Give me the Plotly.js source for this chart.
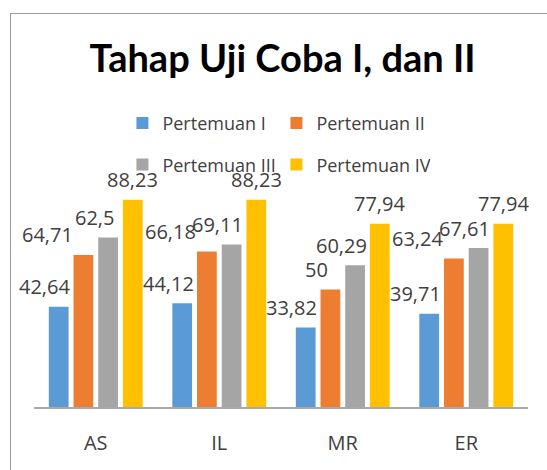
<!DOCTYPE html>
<html>
<head>
<meta charset="utf-8">
<script src="https://cdn.plot.ly/plotly-3.0.1.min.js"></script>
<style>
  html, body { margin: 0; padding: 0; background: #ffffff; }
  #frame { position: absolute; left: 10px; top: 13px; width: 600px; height: 600px; border: 1px solid #9a9a9a; box-sizing: border-box; }
  #chart { position: absolute; left: 0; top: 0; width: 547px; height: 470px; }
</style>
</head>
<body>
<div id="frame"></div>
<div id="chart"></div>
<script>
// categories and series
const categories = ['AS', 'IL', 'MR', 'ER'];
const seriesNames = ['Pertemuan I', 'Pertemuan II', 'Pertemuan III', 'Pertemuan IV'];
// bar heights
const pertemuanI = [42.64, 44.12, 33.82, 39.71];
const pertemuanII = [64.71, 66.18, 50, 63.24];
const pertemuanIII = [72.1, 69.11, 60.29, 67.61];
const pertemuanIV = [88.23, 88.23, 77.94, 77.94];
// data labels as printed in the picture
const labelsI = ['42,64', '44,12', '33,82', '39,71'];
const labelsII = ['64,71', '66,18', '50', '63,24'];
const labelsIII = ['62,5', '69,11', '60,29', '67,61'];
const labelsIV = ['88,23', '88,23', '77,94', '77,94'];

const colors = ['#5b9bd5', '#ed7d31', '#a5a5a5', '#ffc000'];
const allValues = [pertemuanI, pertemuanII, pertemuanIII, pertemuanIV];
const allLabels = [labelsI, labelsII, labelsIII, labelsIV];
const labelShiftBySeries = [-14, -14, -14, 0];
const textFont = '"Open Sans", sans-serif';
const titleFont = 'Lato, "Open Sans", sans-serif';

const W = 547, H = 470;
const margin = { l: 34, r: 19, t: 171.6, b: 63.3 };
const yRange = [0, 100];
const bargap = 0.2, bargroupgap = 0.2;

const traces = allValues.map((vals, i) => ({
  type: 'bar',
  name: seriesNames[i],
  x: categories,
  y: vals,
  marker: { color: colors[i] },
  hoverinfo: 'skip',
  legend: i < 2 ? 'legend' : 'legend2'
}));

// data labels anchored on each bar's category/value through the axes
const plotW = W - margin.l - margin.r;
const plotH = H - margin.t - margin.b;
const pxPerUnit = plotH / (yRange[1] - yRange[0]);
const slotPx = plotW / categories.length * (1 - bargap) / allValues.length;
const annotations = [];
categories.forEach((cat, j) => {
  const shifts = labelShiftBySeries.slice();
  for (let i = 1; i < allValues.length; i++) {
    const sep = Math.abs(allValues[i][j] - allValues[i - 1][j]) * pxPerUnit;
    if (sep < 20) shifts[i - 1] -= 22;
  }
  allValues.forEach((vals, i) => {
    annotations.push({
      x: cat, y: vals[j], xref: 'x', yref: 'y',
      text: allLabels[i][j],
      showarrow: false,
      xanchor: 'center', yanchor: 'middle',
      xshift: (i - (allValues.length - 1) / 2) * slotPx + shifts[i],
      yshift: 20,
      font: { family: textFont, size: 20, color: '#404040' }
    });
  });
});

const legendCommon = {
  orientation: 'h',
  xanchor: 'left',
  yanchor: 'middle',
  font: { family: textFont, size: 18, color: '#404040' },
  bgcolor: 'rgba(0,0,0,0)',
  entrywidth: 109,
  entrywidthmode: 'pixels',
  itemwidth: 30,
  tracegroupgap: 0,
  x: 0.179
};

const layout = {
  width: W,
  height: H,
  margin: margin,
  paper_bgcolor: 'rgba(0,0,0,0)',
  plot_bgcolor: 'rgba(0,0,0,0)',
  barmode: 'group',
  bargap: bargap,
  bargroupgap: bargroupgap,
  showlegend: true,
  title: {
    text: '<b>Tahap Uji Coba I, dan II</b>',
    font: { family: titleFont, size: 38, color: '#000000' },
    x: 282.5 / W, xanchor: 'center',
    y: 1 - 59 / H, yanchor: 'middle', yref: 'container'
  },
  legend: Object.assign({}, legendCommon, { y: (H - margin.b - 122.8) / plotH }),
  legend2: Object.assign({}, legendCommon, { y: (H - margin.b - 164.5) / plotH }),
  annotations: annotations,
  xaxis: {
    type: 'category',
    range: [-0.5, categories.length - 0.5],
    autorange: false,
    showline: true,
    linecolor: '#a9a9a9',
    linewidth: 2,
    showgrid: false,
    zeroline: false,
    ticks: '',
    ticklabelstandoff: 17,
    tickfont: { family: textFont, size: 20, color: '#404040' }
  },
  yaxis: {
    range: yRange,
    autorange: false,
    visible: false,
    showgrid: false,
    zeroline: false
  }
};

Plotly.newPlot('chart', traces, layout, { displayModeBar: false, staticPlot: true });
</script>
</body>
</html>
